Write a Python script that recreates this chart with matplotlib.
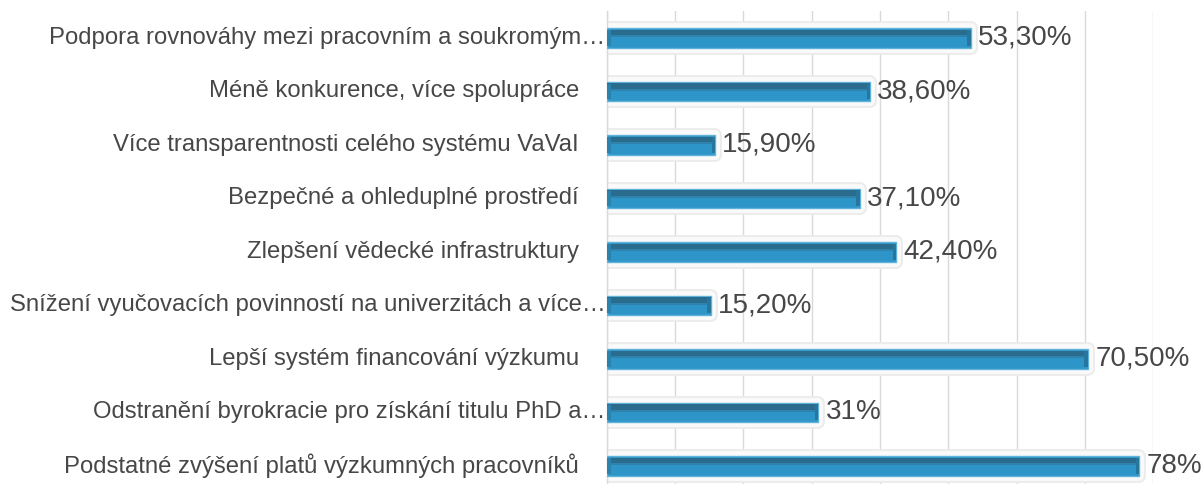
import matplotlib
matplotlib.use("Agg")
import matplotlib.pyplot as plt
import numpy as np

categories = [
    "Podpora rovnováhy mezi pracovním a soukromým…",
    "Méně konkurence, více spolupráce",
    "Více transparentnosti celého systému VaVaI",
    "Bezpečné a ohleduplné prostředí",
    "Zlepšení vědecké infrastruktury",
    "Snížení vyučovacích povinností na univerzitách a více…",
    "Lepší systém financování výzkumu",
    "Odstranění byrokracie pro získání titulu PhD a…",
    "Podstatné zvýšení platů výzkumných pracovníků",
]
values = [53.3, 38.6, 15.9, 37.1, 42.4, 15.2, 70.5, 31.0, 78.0]
value_labels = ["53,30%", "38,60%", "15,90%", "37,10%", "42,40%",
                "15,20%", "70,50%", "31%", "78%"]
x_ticks = [0, 10, 20, 30, 40, 50, 60, 70, 80]

plt.rcParams["font.family"] = ["Liberation Sans", "DejaVu Sans"]
text_color = "#474747"

fig = plt.figure(figsize=(12.04, 4.84), dpi=100)
ax = fig.add_axes([0.504, -0.018, 0.4537, 0.9948])

y = np.arange(len(categories))
bar_h = 0.37

# soft glow behind each bar
ax.barh(y, values, height=bar_h, color="#eeeeee", edgecolor="#ececec",
        linewidth=10, joinstyle="round", zorder=2)
ax.barh(y, values, height=bar_h, color="#fbfbfb", edgecolor="#fafafa",
        linewidth=7, joinstyle="round", zorder=2.5)
# bar body
ax.barh(y, values, height=bar_h, color="#2e95c8", edgecolor="#5fb3da",
        linewidth=1.0, zorder=3)
# darker bevel band along the top edge
ax.barh(y - bar_h * 0.27, values, height=bar_h * 0.3, color="#2a6c8d",
        linewidth=0, zorder=4)
ax.barh(y - bar_h * 0.08, values, height=bar_h * 0.1, color="#2f82ab",
        linewidth=0, zorder=4)
# darker end caps
ax.barh(y, [0.55] * len(values), left=np.array(values) - 0.55,
        height=bar_h * 0.8, color="#27769e", linewidth=0, zorder=4.5)
ax.barh(y, [0.55] * len(values), left=[0] * len(values),
        height=bar_h * 0.8, color="#2a82ad", linewidth=0, zorder=4.5)

for yi, v, lab in zip(y, values, value_labels):
    ax.annotate(lab, (v, yi), xytext=(5, 0), textcoords="offset points",
                va="center", ha="left", fontsize=20, color=text_color,
                zorder=6, annotation_clip=False)

# category names; shortened names run right up to the axis
for yi, name in zip(y, categories):
    dx = -1 if name.endswith("…") else -20
    ax.annotate(name, (0, yi), xytext=(dx, 0), textcoords="offset points",
                va="center", ha="right", fontsize=17.2, color=text_color,
                annotation_clip=False)

ax.set_xlim(0, 80)
ax.set_ylim(len(categories) - 0.5, -0.5)
ax.set_xticks(x_ticks)
ax.xaxis.grid(True, color="#d9d9d9", linewidth=1.0, zorder=0)
ax.set_axisbelow(True)
ax.tick_params(axis="x", bottom=False, labelbottom=False)
ax.set_yticks(y)
ax.tick_params(axis="y", length=0, left=False, labelleft=False)
for s in ["top", "right", "bottom"]:
    ax.spines[s].set_visible(False)
ax.spines["left"].set_color("#d9d9d9")
ax.spines["left"].set_linewidth(1.0)

fig.savefig("out.png", dpi=100)
